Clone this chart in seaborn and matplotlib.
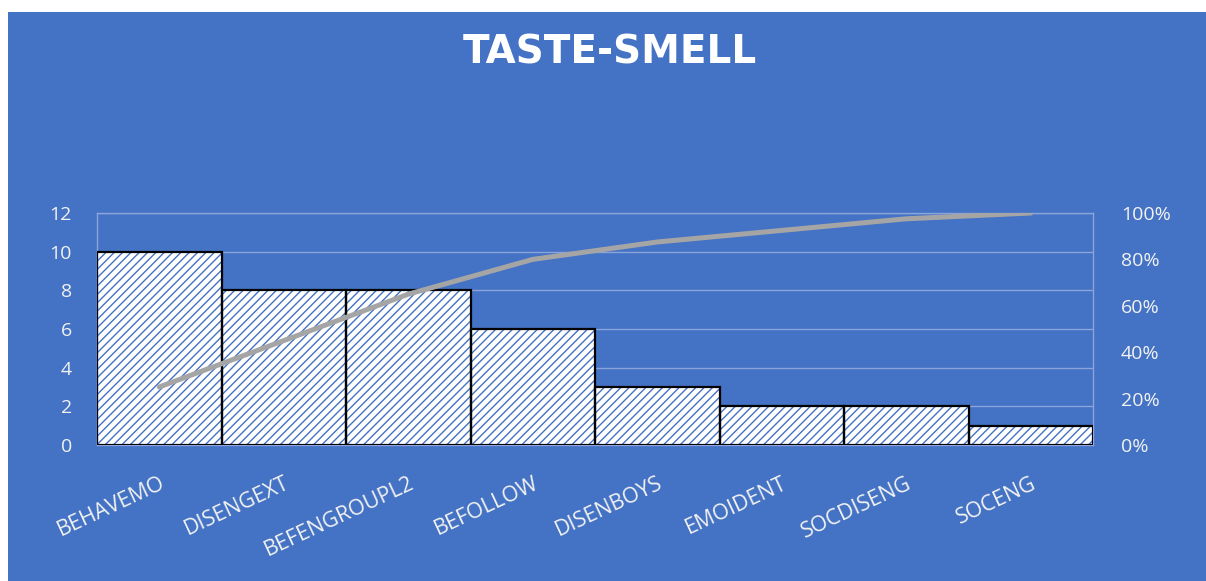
import numpy as np
import matplotlib
matplotlib.use("Agg")
import matplotlib.pyplot as plt
from matplotlib.patches import Rectangle
from matplotlib.ticker import FuncFormatter
import seaborn as sns

# Pareto data: counts per category and the cumulative share (%) shown by the line
categories = ["BEHAVEMO", "DISENGEXT", "BEFENGROUPL2", "BEFOLLOW",
              "DISENBOYS", "EMOIDENT", "SOCDISENG", "SOCENG"]
counts = [10, 8, 8, 6, 3, 2, 2, 1]
cumulative_pct = [25, 45, 65, 80, 87.5, 92.5, 97.5, 100]
left_ticks = [0, 2, 4, 6, 8, 10, 12]
right_ticks = [0, 20, 40, 60, 80, 100]

BG = "#4472C4"
HATCH = "#4472C4"
GRID = "#8AA5DA"
TEXT = "#F2F2F2"
LINE = "#A5A5A5"

sns.set_theme(style="white")
plt.rcParams["font.family"] = ["Open Sans", "DejaVu Sans"]
plt.rcParams["hatch.linewidth"] = 1.0

fig = plt.figure(figsize=(12.06, 5.81), dpi=100, facecolor="white")
# blue chart panel behind everything
fig.patches.append(Rectangle((8 / 1206, 0), 1 - 8 / 1206, 1 - 12 / 581,
                             transform=fig.transFigure, facecolor=BG,
                             edgecolor="none", zorder=-10))

ax = fig.add_axes([97 / 1206, 1 - 445 / 581, (1093 - 97) / 1206, (445 - 213) / 581])
ax.set_facecolor("none")

# hatched bars
sns.barplot(x=categories, y=counts, ax=ax, width=1.0, color="white",
            linewidth=0, zorder=2)
for p in ax.patches:
    p.set_facecolor("white")
    p.set_edgecolor(HATCH)
    p.set_hatch("////")
    p.set_linewidth(0)
n_fill = len(ax.patches)
# black outlines on top of the hatching
sns.barplot(x=categories, y=counts, ax=ax, width=1.0, fill=False,
            color="black", linewidth=1.6, zorder=3)
for p in ax.patches[n_fill:]:
    p.set_edgecolor("black")
    p.set_facecolor("none")

ax.set_ylim(0, 12)
ax.set_xlim(-0.5, len(categories) - 0.5)
ax.set_yticks(left_ticks)
ax.yaxis.grid(True, color=GRID, linewidth=1.0, zorder=0)
ax.set_axisbelow(True)
for s in ax.spines.values():
    s.set_color(GRID)
    s.set_linewidth(1.0)
ax.tick_params(axis="y", length=0, pad=18, labelsize=14, labelcolor=TEXT)
ax.tick_params(axis="x", length=0, pad=20)
ax.set_xticks(range(len(categories)))
ax.set_xticklabels(categories, rotation=25, ha="right", rotation_mode="anchor",
                   fontsize=15.5, color=TEXT)
ax.set_xlabel("")
ax.set_ylabel("")

# cumulative percentage line on the secondary axis
ax2 = ax.twinx()
sns.lineplot(x=np.arange(len(categories)), y=cumulative_pct, ax=ax2,
             color=LINE, linewidth=3.6, zorder=5)
for ln in ax2.lines:
    ln.set_solid_capstyle("round")
ax2.set_ylim(0, 100)
ax2.set_yticks(right_ticks)
ax2.yaxis.set_major_formatter(FuncFormatter(lambda v, _: f"{v:.0f}%"))
ax2.tick_params(axis="y", length=0, pad=20, labelsize=14, labelcolor=TEXT)
ax2.grid(False)
for s in ax2.spines.values():
    s.set_visible(False)
ax2.set_ylabel("")

fig.text(0.506, 1 - 52 / 581, "TASTE-SMELL", ha="center", va="center",
         fontsize=28, fontweight="bold", color="white",
         family=["DejaVu Sans"])

fig.savefig("out.png", dpi=100, facecolor="white")
